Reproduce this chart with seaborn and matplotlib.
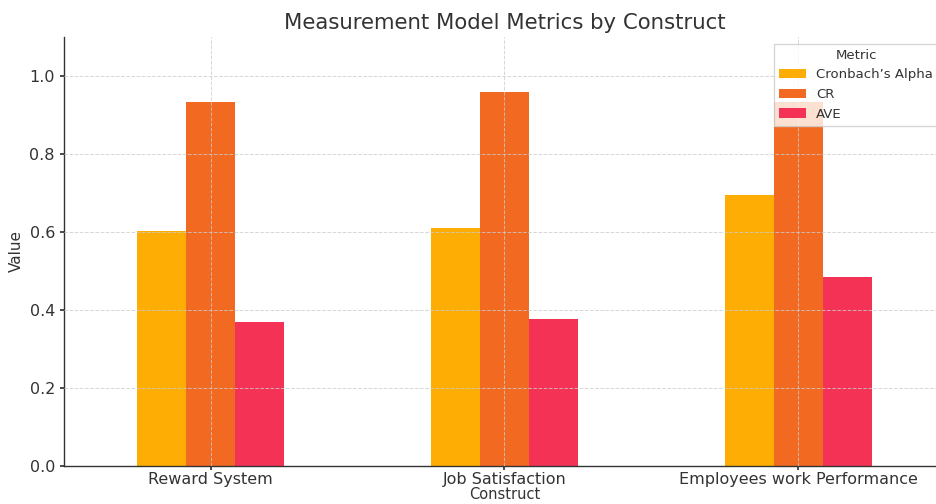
import pandas as pd
import matplotlib.pyplot as plt
import seaborn as sns

# Values
constructs = ["Reward System", "Job Satisfaction", "Employees work Performance"]
metrics = ["Cronbach\u2019s Alpha", "CR", "AVE"]
alpha_vals = [0.602, 0.610, 0.694]
cr_vals = [0.934, 0.959, 0.934]
ave_vals = [0.370, 0.378, 0.485]
colors = ["#FDAD03", "#F26A22", "#F43256"]

df = pd.DataFrame({
    "Construct": constructs * 3,
    "Metric": [m for m in metrics for _ in constructs],
    "Value": alpha_vals + cr_vals + ave_vals,
})

sns.set_theme(style="white")
plt.rcParams['font.family'] = ['DejaVu Sans']

fig = plt.figure(figsize=(9.36, 5.04), dpi=100)
ax = fig.add_axes([64 / 936, 38 / 504, (945 - 64) / 936, (466 - 37) / 504])

sns.barplot(
    data=df, x="Construct", y="Value", hue="Metric",
    hue_order=metrics, palette=dict(zip(metrics, colors)),
    width=0.5, gap=0, saturation=1, linewidth=0, ax=ax,
)

ax.set_xlim(-0.5, 2.5)
ax.set_ylim(0, 1.1)
ax.set_yticks([0.0, 0.2, 0.4, 0.6, 0.8, 1.0])
ax.set_title("Measurement Model Metrics by Construct", fontsize=15.3, color="#333333", pad=6)
ax.set_xlabel("Construct", fontsize=10.5, color="#333333", labelpad=0)
ax.set_ylabel("Value", fontsize=11, color="#333333")
ax.tick_params(axis="both", labelsize=11.5, colors="#333333", length=3, left=True, bottom=True)
ax.tick_params(axis="x", pad=1.5)
ax.grid(True, linestyle="--", color="#cccccc", linewidth=0.7, alpha=0.8)
ax.set_axisbelow(False)
for s in ["top", "right"]:
    ax.spines[s].set_visible(False)
for s in ["left", "bottom"]:
    ax.spines[s].set_color("#333333")
    ax.spines[s].set_linewidth(1.0)

leg = ax.legend(title="Metric", loc="upper right", fontsize=9.5, title_fontsize=9.5,
                frameon=True, borderaxespad=0.5, framealpha=0.8, edgecolor="#cccccc",
                fancybox=False)
leg.get_title().set_color("#333333")
for t in leg.get_texts():
    t.set_color("#333333")

fig.savefig("out.png", dpi=100)
